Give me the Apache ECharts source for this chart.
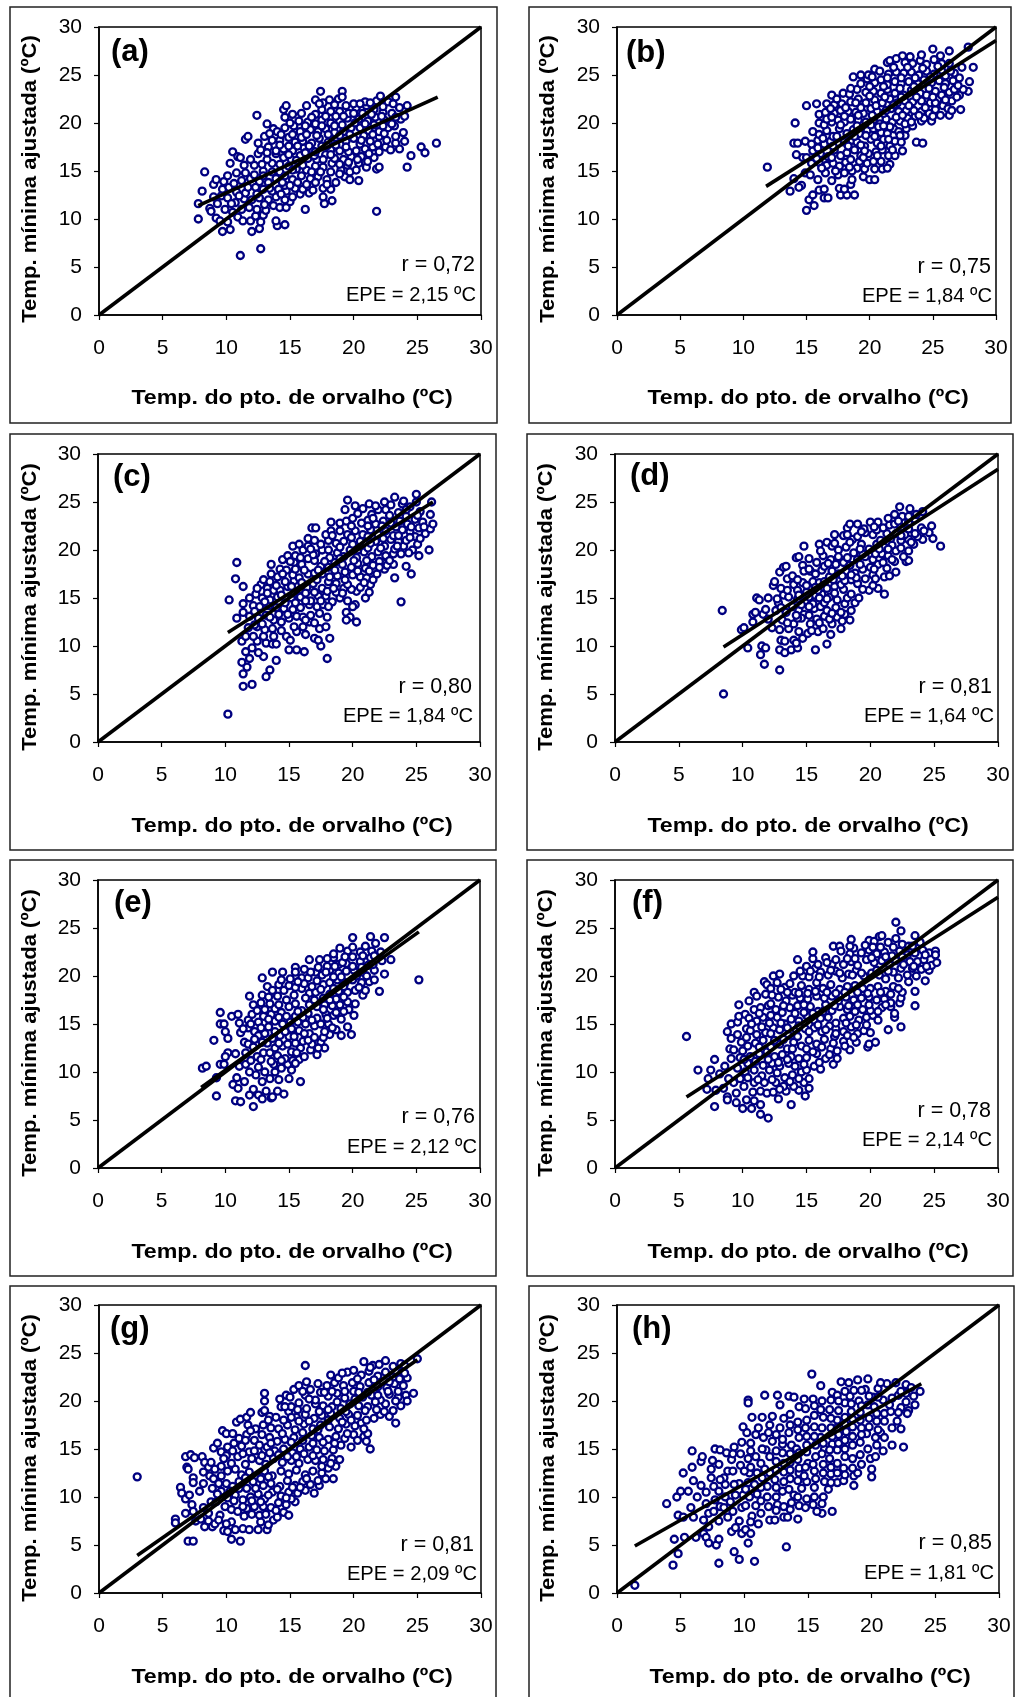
<!DOCTYPE html>
<html><head><meta charset="utf-8">
<style>html,body{margin:0;padding:0;background:#fff;overflow:hidden}#c{width:1015px;height:1697px}</style>
<script src="https://cdn.jsdelivr.net/npm/echarts@6/dist/echarts.min.js"></script>
</head><body><div id="c"></div>
<script>
const xTitle = 'Temp. do pto. de orvalho (ºC)';
const yTitle = 'Temp. mínima ajustada (ºC)';
const panelLabels = ['(a)','(b)','(c)','(d)','(e)','(f)','(g)','(h)'];
const rTexts = ['r = 0,72','r = 0,75','r = 0,80','r = 0,81','r = 0,76','r = 0,78','r = 0,81','r = 0,85'];
const epeTexts = ['EPE = 2,15 ºC','EPE = 1,84 ºC','EPE = 1,84 ºC','EPE = 1,64 ºC','EPE = 2,12 ºC','EPE = 2,14 ºC','EPE = 2,09 ºC','EPE = 1,81 ºC'];
const identityLine = [[0,0],[30,30]];
const fitLines = [
 [[7.8,11.4],[26.6,22.7]],[[11.8,13.4],[30,28.6]],[[10.2,11.4],[26.3,25]],[[8.5,9.9],[30,28.4]],
 [[8.1,8.4],[25.2,24.6]],[[5.6,7.4],[30,28.2]],[[3,3.9],[25,24.3]],[[1.4,4.9],[23.9,21.8]]];

const pointsA = [[11.1,6.2],[12.7,6.9],[21.8,10.8],[26.5,17.9],[25.3,17.5],[25.6,16.9],[24.5,16.6],[24.2,15.4],[7.8,10],[7.8,11.6],[8.3,14.9],[8.1,12.9],[12.4,20.8],[13.2,19.9],[11.5,18.3],[11.7,18.6],[10.5,17],[17.4,23.3],[19.1,23.3],
[9.7,8.7],[10.3,8.9],[12,8.7],[12.6,9],[14,9.3],[14.6,9.4],[9.2,10.1],[9.5,9.8],[10.1,9.7],[10.9,10.2],[11.3,9.8],[11.9,9.8],[12.7,9.7],[13.9,9.8],[12.3,10.3],[12.9,10.4],
[8.7,11.1],[8.8,10.8],[9.3,11.6],[9.9,11],[10.5,10.7],[11.2,11],[11.8,11.2],[12.4,11],[13.1,10.9],[13.7,11.4],[14.2,11.2],[14.7,11.2],[15,11.8],
[9,12.3],[9.6,12.4],[10.1,12.2],[10.7,11.7],[11.4,12.1],[12,12],[12.6,12.2],[13.3,12],[13.9,12.3],[14.6,12],[15.2,12.3],[15.8,12.6],[16.5,12.7],[16.2,11],[17.7,11.6],[18.3,11.9],[17.6,12.3],
[9,13.6],[9.7,13.1],[10.2,13.3],[10.8,12.8],[11.5,12.7],[12.3,13.3],[12.9,13.1],[13.6,12.9],[14.1,13.1],[14.7,12.9],[15.4,13.2],[16,13.1],[16.8,13],[17.6,13.2],[18.2,13.1],
[9.2,14.1],[9.8,13.9],[10.6,13.7],[11.2,14],[11.9,14.2],[12.6,13.9],[13.3,13.8],[13.9,14.2],[14.6,13.5],[15.2,14.1],[15.9,14.5],[16.6,14.2],[17.2,14.4],[17.9,14.1],[18.6,13.8],[19.3,14.4],[19.7,14.1],[20.4,14],
[10.3,15.8],[10.8,14.8],[11.4,15.6],[12.2,15.6],[12.9,15],[13.6,15.8],[14.2,14.9],[14.9,15.5],[15.5,15.2],[16.3,15.1],[17,15.5],[17.6,15.4],[18.3,15.8],[19,15.1],[19.5,15.6],[20.4,15.8],[21,15.4],[21.8,15.2],[22,15.4],
[10.9,16.5],[11.1,16.4],[12.5,16.8],[13.2,16.2],[13.9,16.8],[14.5,16.4],[15.1,16.2],[15.8,16.6],[16.4,16.3],[17.1,16.2],[17.8,16.7],[18.5,16.3],[19.2,16.2],[19.8,16.5],[20.6,16.5],[21.1,16],[21.6,16.4],[22,17],
[12.7,17.2],[13.3,17.5],[13.9,17.1],[14.5,17.3],[15.2,17.1],[16.1,17.4],[16.8,17.1],[17.5,17.6],[18.2,17.2],[18.9,17.1],[19.6,17],[20.2,17.1],[20.9,17.3],[21.5,17.5],[22.5,17.5],[23.6,17.3],[22.9,17.2],
[12.5,17.9],[13,18.6],[13.6,18.2],[14.2,18.2],[14.9,18.5],[15.4,18],[16,18.1],[16.7,17.9],[17.3,18.4],[18,18],[18.6,18.5],[19.4,18.1],[20,18.4],[20.8,18.7],[21.3,18.1],[22,18.6],[22.6,18.2],[23.3,17.9],[24,18.1],
[13.7,19.4],[14,19.1],[14.6,19.5],[15.3,19.7],[15.8,19.1],[16.6,19.3],[17.2,19.1],[17.8,19.4],[18.5,19],[19.2,19.1],[19.8,19.5],[20.5,19.5],[21.2,19.2],[22,19.1],[22.7,19.5],[23.2,19.7],[23.9,19],
[14.6,20.6],[15.2,20.9],[15.9,21],[16.4,20.1],[17,19.9],[17.5,20.3],[18.2,20],[18.9,20.2],[19.5,20.5],[20.4,20.4],[21.1,20.2],[21.7,20.6],[22.4,20.3],[23,19.9],[23.7,20.4],[24,20.7],
[14.5,21.4],[14.7,21.8],[16.3,21.8],[17,20.9],[17.5,21.4],[18.2,21.2],[18.9,21.2],[19.6,21],[20.2,21.6],[21,21.8],[21.6,21.4],[22.3,21.1],[23,21],[23.6,21.6],[24.2,21.8],
[17,22.4],[17.6,22.1],[18.1,22.4],[18.8,22.5],[19.1,22.7],[20,22],[20.9,22.2],[21.8,22.3],[22.1,22.8],[22.7,22.2],[23.3,22.7]];
const extraA = [[10.4,11.6],[11,12.4],[11.7,13.3],[12.4,12.6],[13,11.5],[13.4,13.2],[14.3,12.6],[14.4,13.8],[15,13.5],[15.6,13.8],[16.3,13.6],[17,13.8],[17.9,13.6],[18.9,14.7],[10.1,14.5],[11.5,14.8],[12.2,14.6],[12.9,14.5],[13.6,14.9],[14.6,14.5],[15.2,15.1],[16,15.6],[16.7,14.9],[17.4,14.9],[18.2,14.9],[19.7,14.9],[20.2,15.1],[11.9,16.2],[12.8,15.7],[13.2,16.9],[14.2,15.7],[14.9,16.7],[15.5,16.1],[16.2,16.9],[16.9,16.6],[17.6,16.2],[18.2,16.7],[18.9,15.7],[19.6,15.9],[20.3,16.2],[21.2,16.8],[14.2,17.7],[14.9,17.6],[15.6,17.6],[16.5,17.6],[17,17],[17.9,17.6],[18.6,17.7],[19.4,17.5],[20.5,17.8],[21.9,17.8],[13.4,18.9],[14.3,18.8],[15.2,18.8],[15.9,18.5],[16.3,18.8],[17.1,18.7],[18,18.8],[18.9,18.7],[19.7,18.8],[20.6,18.2],[21.5,18.8],[22.4,18.9],[23.3,18.6],[15,20],[15.7,20.2],[16.2,19.7],[17.5,19.7],[18.5,19.7],[19.1,19.8],[20.1,20],[20.9,19.9],[21.6,19.8],[22.3,19.7],[16.7,20.6],[17.8,20.7],[18.6,20.7],[19.2,20.7],[20,21],[20.7,21],[21.4,20.9],[22.2,20.7],[23.3,20.6],[17.3,22],[18.5,21.9],[19.4,21.8],[20.5,22],[21.3,22.1],[22.3,21.7],[23.1,22]];

const pointsB = [[11.9,15.4],[13.7,12.9],[14,14.2],[14.1,20],[14,17.9],[14.3,17.9],[14.9,18.1],[15,21.8],[14.7,16.4],[14.2,16.7],[14.6,13.5],[14.4,13.3],
[15,10.9],[15.6,11.4],[15.2,12],[15.5,12.5],[16.4,12.2],[16.7,12.2],[17.7,12.5],[18.2,12.5],[18.8,12.5],[16,13],[16.4,13.1],[17.6,13.2],[18,13.1],[18.5,13.6],
[14.9,14.8],[15.3,14.6],[15.9,14.1],[16.5,14.8],[17,14],[17.5,14.6],[18,14.8],[18.6,14.1],[19,15.3],[19.5,14.4],[20,14.1],[20.4,14.1],[20.4,15.2],[19.6,15.2],[21,15.2],
[15.4,15.8],[16,15.9],[16.6,15.6],[17.1,15.8],[17.6,15.5],[18.1,15.9],[18.6,15],[19.2,16],[19.8,15.8],[20.3,16],[20.9,16],[21.6,15.7],[21.4,15.3],
[15,16.4],[15.5,17.1],[16.1,16.8],[16.7,16.5],[17.2,17.2],[17.7,16.6],[18.2,16.9],[18.8,17.2],[19.3,16.6],[19.9,16.8],[20.5,17],[21,17.2],[21.5,16.6],[22,16.6],[22.6,17.1],
[15.4,17.8],[15.9,18.2],[16.4,17.8],[16.9,18.1],[17.5,17.9],[18,18],[18.6,18.2],[19,18],[19.6,17.6],[20.1,18.3],[20.6,17.9],[21.1,18.3],[21.6,17.6],[22,18.1],[22.5,18],[22.8,18.7],[23.7,18],[24.2,17.9],
[15.5,19.1],[16,18.8],[16.6,19.2],[17.1,18.6],[17.6,19.4],[18.2,18.9],[18.7,19.3],[19.2,18.9],[19.8,19.2],[20.3,19.4],[20.9,19],[21.4,18.9],[21.9,19.4],[22.3,19.1],[22.9,19.4],[23.4,19.7],
[16,20],[16.4,19.8],[17,20.1],[17.5,20.3],[18,20.1],[18.5,20.4],[19.1,20.3],[19.7,20.1],[20.3,20.3],[20.8,19.9],[21.3,20.4],[21.8,20.1],[22.4,20.2],[23,20.5],[23.6,20.7],[24.1,20.2],[24.9,20.2],[24.3,20.5],
[16,20.9],[16.5,21.1],[17.2,21],[17.7,21.3],[18.3,21.2],[18.9,21.1],[19.5,21],[20.1,21.5],[20.6,21.2],[21.1,21],[21.7,21.5],[22.3,21.2],[22.9,21.3],[23.5,21.3],[24.1,21.2],[24.7,21],[25.2,21.4],[25.6,20.8],[26.3,20.8],[27.2,21.4],[25.8,21.8],
[15.8,22],[16.6,22],[17.2,21.9],[17.8,22],[18.5,22.2],[19.1,22.5],[19.7,22.1],[20.4,22.4],[21,22.1],[21.6,22.5],[22.2,22.1],[22.8,22.3],[23.4,22.2],[24.1,22.3],[24.8,22.1],[25.4,22.5],[26.5,22.3],[27.1,22.9],[27.8,23.3],
[17,22.9],[17.9,23.1],[18.4,23],[19,23.5],[19.7,23.2],[20.3,23.3],[20.9,23.1],[21.4,23.5],[22,23.1],[22.7,22.9],[23.3,23.4],[24,23.1],[24.5,22.9],[25.2,23.3],[25.7,22.9],[26.3,23.2],[26.9,22.7],[27.4,23.5],
[18.7,24.8],[19.3,25],[19.8,24.6],[19.3,24.1],[20.4,24.2],[20.9,24.5],[21.4,24],[22,24.3],[22.5,24.1],[23.1,24.3],[23.8,24.1],[24.3,24.5],[24.9,24.2],[25.5,24.4],[26,24.1],[26.6,24.4],[27.1,24.7],[27.9,24.3],
[19.9,25],[20.4,25.6],[20.8,25.4],[21.5,25.1],[22.1,25.3],[22.7,25.2],[23.3,25.3],[23.9,25],[24.5,25.4],[25.1,25.1],[25.7,25.5],[26.2,25.7],[26.7,25.2],[27.3,25.8],[28.2,25.8],
[21.4,26.3],[21.6,26.5],[22.1,26.7],[22.8,26.3],[23.4,26.2],[24,26.5],[24.5,26.1],[25.1,26.6],[25.7,26.2],[26.3,26.2],[22.6,27],[23.2,26.9],[24.1,27.1],[25,27.7],[25.6,27],[26.3,27.5],[27.8,27.9]];
const extraB = [[16.2,15.3],[17.3,15],[18.4,15.4],[19.5,16.4],[20.6,16.6],[15.8,16.3],[17,16.4],[18.5,16.2],[19.6,17.1],[20.9,17.6],[21.8,17.2],[15.9,17.4],[17.1,17.6],[18.3,17.6],[19.3,17.7],[20.4,18.6],[21.5,18.3],[22.4,18.7],[16.3,18.4],[17.4,18.6],[18.8,18.6],[19.7,18.7],[20.7,19.6],[21.6,19.6],[22.8,19.9],[16.6,20.4],[17.7,19.8],[19,19.7],[20.1,19.8],[21.1,19.7],[22.1,20.6],[23.3,20.1],[17,20.6],[18,20.7],[19.1,20.8],[20.2,20.8],[21.3,21.3],[22.6,20.8],[23.9,20.8],[25,20.7],[16.9,21.5],[18.1,21.6],[19.3,21.6],[20.5,21.8],[21.9,21.9],[23.1,21.8],[24.4,21.6],[25.2,22.1],[26.2,21.5],[26.5,21.3],[17.4,22.5],[18.9,22.1],[20,22.8],[21.2,22.7],[22.5,22.7],[23.7,22.7],[25,22.7],[26,22.4],[26.7,23.5],[18.5,23.6],[20,23.8],[21.1,23.8],[22.4,23.6],[23.5,23.8],[24.7,23.6],[25.9,23.7],[27,23.9],[20.2,24.8],[21.4,24.7],[22.5,24.7],[23.6,24.7],[24.8,24.8],[26,24.9],[21.9,25.8],[23,25.8],[24.2,25.7],[25.4,25.9],[26.4,25.4]];

const pointsC = [[10.2,2.9],[10.9,18.7],[10.8,17],[11.4,16.2],[10.3,14.8],[10.9,12.9],[11.4,14.4],[11.4,13.5],[11.4,5.8],[12.1,6],[11.4,7.1],[13.2,6.8],[13.5,7.5],[11.7,7.8],[11.3,8.3],[11.9,8.7],[13,8.9],[14,8.5],[11.6,9.4],[12.6,9.3],[15,9.6],[15.6,9.6],[16.2,9.4],[18,8.7],[17.5,10],[18.2,10.8],[16.3,11.2],[17,10.8],[17.3,10.6],
[11.3,10.5],[11.6,11],[12.1,9.8],[12.5,10.5],[13.2,10.3],[13.7,10.2],[14,10.2],[13.8,11],[12.2,11],[13,11],[14.8,11],[15.1,10.6],[15.6,11.5],[14.4,11.6],[11.8,11.9],[12.5,12],[13.1,11.7],[13.7,11.8],[15.4,12],[16.1,12],[17.4,11.8],[17.9,12],[16.6,12.5],[12.3,12.2],
[11.9,13.1],[12.6,12.9],[13.2,13.2],[13.8,12.7],[14.4,12.5],[15,12.9],[15.6,13.1],[16.1,13],[16.7,13.2],[17.4,13.4],[18,13],[14.2,13.3],[12.2,14.2],[12.7,14.1],[13.4,14.2],[14,14],[14.6,13.9],[15.3,13.8],[15.9,14],[16.6,14.3],[17.2,14.1],[17.7,14.3],[19.5,13.5],[19.8,13],[19.5,12.7],[20.3,12.5],[20.2,14.3],[20,14.1],
[11.9,15],[12.4,15.4],[12.9,15],[13.5,14.8],[14.1,15.1],[14.7,14.5],[15.2,15],[15.9,15.1],[16.7,14.7],[17.3,15.2],[17.9,15.2],[18.4,14.6],[19,15],[19.6,14.7],[20.3,15.7],[21,15],[21.3,15.6],[18.7,15.6],
[12.8,16.4],[13.3,16],[13.8,15.8],[14.3,15.8],[14.9,16.2],[15.4,16.8],[15.9,15.9],[16.4,16.1],[16.9,16.5],[17.6,16],[18.1,16.7],[18.7,16.5],[19.3,16],[19.9,15.9],[20.6,16.1],[21.4,16.4],[13,16.9],[13.5,16.7],[14.1,17.2],[14.7,16.7],
[13.6,17.5],[13.6,18.5],[14.3,18],[14.8,17.9],[15.3,17.4],[15.8,17.1],[16.5,17.5],[17,17.6],[17.6,17.5],[18.2,17.2],[18.8,17.3],[19.4,17.7],[20,17.4],[20.6,17.2],[21.1,17.1],[21.6,16.9],[21.9,17.5],[22.5,18],[23.2,18.5],[23.3,17.1],[24.6,17.5],[23.8,14.6],[24.2,18.3],
[14.5,19],[14.9,19.4],[15.4,18.7],[16,18.5],[16.5,19.1],[17,18.9],[17.5,18.3],[18.1,18.2],[18.6,18.7],[19.2,18.5],[19.9,18.2],[20.4,18.6],[21,18.1],[21.6,18.4],[22.1,18.8],[22.7,19.2],[23.2,19.6],[23.8,19.6],[25.2,19.4],
[15.3,20.4],[15.8,20.6],[15.5,19.4],[16.1,20],[16.5,20.4],[17.1,19.6],[17.6,20],[18.2,19.2],[18.8,19.7],[19.3,19.3],[19.8,20],[20.3,19.2],[20.9,19.8],[21.5,19.3],[22,19.8],[22.6,19.4],[23.3,20.1],[24,20.4],[24.7,20],[25.1,20.6],[26,20],
[16.5,21.2],[17,21],[17.5,20.6],[18.1,21],[18.7,20.7],[19.3,20.9],[20,20.6],[20.6,20.9],[21.2,20.2],[21.8,20.9],[22.5,20.4],[23,21.1],[23.6,20.9],[24.2,21],[24.9,21.4],[25.7,21.7],[16.8,22.3],[17.1,22.3],
[17.9,21.6],[18.3,22],[19,22],[19.6,21.6],[20.2,22],[20.8,21.6],[21.4,22.1],[22,21.6],[22.6,22],[23.2,21.5],[23.9,22.1],[24.5,21.9],[25.2,22.3],[26.1,22.2],[26.3,22.7],[18.3,22.9],[19,22.8],[19.5,23],[20,23.3],[20.7,22.8],[21.2,23.1],[21.8,22.7],[22.4,23],[23,22.8],[23.7,23],[24.3,22.7],[24.9,23.2],[25.5,22.9],
[19.4,24.2],[19.6,25.2],[20.2,24.6],[20.8,24.3],[21.3,24.8],[21.5,23.7],[22,24.2],[22.5,25],[22.6,24.2],[23,24.7],[23.3,25.5],[23.9,24.8],[24,25.1],[24.5,24.5],[25,25.8],[25,25],[26.2,25],[26.1,23.7],[25.3,24],[23.6,23.9],[21.8,24.6]];
const extraC = [[12.9,12.3],[13.5,13],[14.9,13.3],[16.3,12.7],[17,12.4],[12.3,13.6],[13.1,14.6],[15.5,14.5],[16.3,14.7],[17.5,14.7],[18.1,14.1],[13.3,15.5],[14.4,15.3],[15.4,15.5],[16.3,15.5],[17,15.6],[18,15.7],[19.2,15.5],[12.5,16],[14,16.3],[15.2,16.2],[16,16.6],[17.2,16.9],[18.5,16],[19.6,16.4],[20.9,16.6],[14.5,17.5],[15.5,18],[16.2,17.9],[17.3,17.9],[18.6,17.9],[19.4,16.9],[20.4,17.8],[21.3,17.8],[22.7,18.4],[15.1,18.8],[15.9,19.2],[16.9,19.5],[17.8,18.8],[19,19.1],[20.1,18.9],[21.1,18.9],[22.1,18.2],[22.9,18.9],[16.7,20.1],[18.1,20],[19,20.3],[20.4,20],[21.4,20.7],[22.2,20.2],[23.5,20.4],[24.4,19.7],[18.4,21.5],[19.9,21.3],[21.2,21.4],[22.4,21.2],[23.6,21.5],[24.5,21.3],[25.3,21.2],[19.9,22.5],[21.2,22.5],[22.3,22.5],[23.4,22.4],[24.6,22.4],[25.6,22.4],[20.4,23.8],[21.6,23.3],[22.9,23.6],[24.2,23.5],[25.1,23.6],[24.2,24.2]];

const pointsD = [[8.5,5],[8.4,13.7],[9.9,11.7],[10.1,11.9],[10.4,9.8],[11.4,9.1],[11.5,10],[11.8,9.8],[11.7,8.1],[12.9,7.5],[12.9,9.6],[13.3,9.3],[13.8,9.6],[14.3,9.8],[15.7,9.6],[16.6,10.2],
[10.8,12.5],[10.8,13.3],[11,13.5],[11.1,15],[11.3,14.8],[11.6,13.3],[11.8,13.8],[12,15],[12,12.8],[12.3,11.9],[12.6,13.7],[12.8,14.5],[13.1,12.7],[12.9,11.7],[13,10.6],[13.3,10.5],[14,10.6],[14.2,10.3],[14.7,10.8],[15.1,11.3],[15.9,11.5],[16.3,11.8],[16.9,11.2],[17.7,11.8],[18.4,12.7],[14.4,11.5],[13.6,11.8],
[12.4,16.3],[12.5,16.7],[12.7,14.9],[13,16],[13.2,15.3],[13.6,15.1],[13.9,14.1],[14.4,13.7],[14.8,13.3],[15.3,12.3],[15.8,12.8],[16.4,13.1],[17,12.3],[17.4,13],[18,13.3],[18.5,13.7],[14,12.3],[14.6,12.9],[15.6,13.9],[16.1,14.1],[16.6,13.7],[17.3,14],[14.3,14.9],[14.9,14.7],[15.5,14.4],
[12.9,17.7],[13.2,18.2],[13.4,18.3],[13.5,17],[13.9,17.3],[14,16.4],[14.7,16.6],[14.3,15.8],[15,15.6],[15.6,15.3],[16.2,15.4],[16.8,15.1],[17.4,14.8],[18,14.4],[18.8,14.5],[17.9,15.9],[18.2,15],[19.1,15],[19.9,15.8],[20.6,16],[21.1,15.4],[16,15],
[14.2,19.2],[14.4,19.3],[14.8,20.4],[14.7,18.4],[14.8,17.8],[15.3,17.8],[15.5,16.7],[16,16.6],[16.6,16],[17.2,16.2],[17.7,16.4],[18.5,16.9],[19,16.5],[19.6,17],[20.2,17.4],[21.1,17.2],[21.5,17.3],[22,17.7],[15.2,19.1],[15.8,18.7],[16.2,17.9],[16.8,17.2],[17.5,17.5],[18.1,17.8],[18.8,17.6],[19.4,18],[20,18.2],[20.6,18.5],[21.3,18.1],[21.9,18.8],[22.8,18.8],[23,18.9],
[16,20.6],[16.3,19.4],[16.9,19],[17.3,18.5],[17.9,18.7],[18.4,18.4],[19,19],[19.6,19.3],[20.2,19],[20.9,19.6],[21.4,19.4],[22,19.9],[22.6,19.3],[23,19.9],[23.4,20.6],[25.5,20.4],[24.1,21.1],[24.9,21.2],[24.6,21.8],[24.8,22.5],
[16.6,20.8],[17,20.4],[17.5,20],[18.1,20.3],[18.7,19.7],[19.3,20.6],[19.9,20.1],[20.5,20.6],[21.1,20.3],[21.7,20.5],[22.4,21],[23,21.1],[23.7,21.4],[17.2,21.6],[17.9,21.5],[18.6,21.1],[19,21.4],[19.6,21.8],[20.2,21.6],[20.8,21],[21.3,21.7],[22,21.7],[22.7,21.6],[23.5,21.7],[24,22.3],
[18.2,22.3],[18.4,22.7],[19,22.7],[19.5,22.2],[20,22.9],[20.6,22.9],[21,22.3],[21.5,22.6],[21.9,22.7],[22.4,22.4],[23,22.9],[23.5,23.2],[21.4,23.3],[21.9,23.7],[22.3,24.5],[23.1,24.3],[23.6,23.7],[24.1,24],[22.5,23.5]];
const extraD = [[13.5,12.4],[13.4,13.5],[13,14],[14.3,12.9],[15.2,13.2],[15.4,11.6],[16,12.4],[16.8,12.8],[17.8,12.6],[14.2,13.2],[14.6,14.3],[15.2,14.1],[16.4,14.5],[17,13.4],[17.7,13.5],[13.5,15.8],[14.4,15.3],[15.2,15.1],[15.9,15.8],[16.6,14.9],[17.2,15.5],[18.5,15.4],[19.4,15.9],[20.2,16.3],[14.3,16.9],[15,16.3],[15.7,16.1],[16.4,16.7],[17.1,16.9],[18,16.8],[18.9,17.1],[20.4,17],[15.2,18],[15.7,17.5],[16.4,18.3],[17,17.8],[17.8,17.3],[18.5,17.4],[19.2,18.5],[20.3,18],[21,18.7],[21.7,19],[16.1,19.9],[16.7,18.6],[17.5,19.3],[18.2,19.2],[19.4,19.6],[20.4,19.6],[21.4,20.1],[22.4,20.2],[17.2,20.7],[18.4,20.8],[19.2,20.1],[20.7,20.1],[22.4,21.5],[23.2,20.8],[18.2,21.6],[19.3,21.9],[20.5,22.1],[21.6,21.2],[23,22.2],[24.2,22],[20.3,22.4],[22.2,23],[23,23.5]];

const pointsE = [[8.2,10.4],[8.5,10.6],[9.3,9.4],[9.3,7.5],[9.1,13.3],[9.6,10.8],[9.9,10.8],[9.6,15],[9.9,15],[9.6,16.2],[10,14.2],[10.2,13.5],[10.2,12],[10,11.6],[10.5,15.8],[10.6,8.7],[10.9,9.4],[10.8,7],[11.2,6.9],[11,8.3],[12.2,6.4],
[10.8,11.9],[11.1,10.6],[11.5,9],[11.9,7.6],[12.2,8.2],[12.6,7.6],[12.9,7.2],[13.2,8],[13.6,7.3],[13.7,7.4],[14.1,8],[14.6,7.7],[15.9,9],[15,9.3],[14.2,9.2],[13.5,9.3],[12.9,9],[12.4,9.7],[11.9,10],[11.6,10.8],[12.6,10.5],[13.1,10],[13.9,10],[14.4,10.4],[15.2,10.2],[14.9,10.8],[13.8,10.8],
[11.1,15.1],[11.2,14.1],[11.5,13.1],[11.8,12.9],[12,11.2],[12.5,11.6],[13,12],[13.5,12],[14.1,11.7],[14.7,11.4],[15.3,11.2],[15.8,11.3],[16.2,11.6],[17.2,11.8],[16.7,12.3],[15.9,12.5],[15.2,12.1],[14.5,12.7],[13.9,12.5],[13.3,13],
[11,16],[11.8,15.4],[11.8,14.6],[12,15],[12.3,14.2],[12.6,13.8],[13.1,14],[13.7,13.5],[14.3,13.8],[15,13.7],[15.5,13],[16.1,13.2],[16.8,12.9],[17.5,13.1],[17.8,12.5],[18.2,13.9],[17.7,13.6],[16.6,14],[15.8,14.3],[15.2,14.5],
[11.9,17.9],[12.2,17],[12.1,16],[12.6,15.2],[13,15.8],[13.4,14.7],[13.9,15.3],[14.5,15],[15.1,15.2],[15.7,15.2],[16.3,15],[17,14.8],[17.5,15],[18.1,15],[18.7,14.4],[19.1,13.8],[19.9,13.9],[19.6,14.7],[19.1,15.5],[18.5,15.9],[17.9,16],[17.2,15.6],[16.5,16.1],
[12.9,18],[12.9,19.8],[13.1,16.5],[13.6,16],[13.9,16.6],[14.4,16.2],[15,16.8],[15.5,17.1],[16,16.4],[16.6,17],[17.2,16.8],[17.8,17],[18.4,16.9],[19,17],[19.6,17.3],[20.2,17.1],[20.1,15.9],[19.7,16.5],[18.7,17.6],
[13.3,18.9],[13.7,18.5],[13.7,20.4],[14.2,19.1],[14.1,17.9],[14.6,18.5],[14.5,20.4],[15,19],[15.4,18],[16,18.7],[16.6,18.2],[17.1,18.3],[17.7,17.7],[18.2,18.1],[18.9,18.4],[19.6,18.3],[20.2,18.5],[20.8,18],[21,18.5],
[15.5,20.9],[15.5,20.4],[16,19.8],[16.5,19.8],[16.6,21.7],[17.2,19.5],[17.7,19.1],[18.2,19.3],[18.8,19.6],[19.4,19.3],[20,19.6],[20.7,19.3],[21.3,19.4],[21.7,19.6],[22.1,18.4],[17.1,20.4],[17.6,20.1],[18.2,20.6],[18.9,20.3],[19.5,20.5],[20.1,20.6],[20.8,20.4],[21.7,20.6],[22.5,20.2],
[17.4,21.7],[18,21],[18.5,21.9],[18.9,21.2],[19.5,21.3],[20,22],[20.6,21.5],[21.2,21.1],[21.4,21.9],[22.3,21.6],[23,21.7],[18.5,22.3],[19,22.9],[19.6,22.6],[20,23],[20.6,22.5],[21,23.1],[21.5,22.6],[22.2,22.5],[20,24],[21.4,24.1],[21.8,23.4],[22.5,24],[25.2,19.6]];
const extraE = [[11.6,12],[12.2,12.6],[12.8,11.3],[13.6,11.1],[14.4,11.2],[15.5,10.9],[12.3,13.4],[12.9,13.1],[14.2,13],[14.9,12.9],[15.6,12],[16.5,13.3],[17.3,12.5],[11.4,14.5],[12.8,14.6],[13.9,14.2],[14.7,14.2],[15.4,13.7],[16.2,14],[17,13.6],[17.8,14.2],[18.4,14.6],[13.4,15.5],[14.2,15.7],[14.8,15.8],[15.5,15.8],[16.1,15.7],[16.8,15.4],[18,15.6],[18.7,16.2],[12.5,16.4],[12.8,17.2],[13.5,17.1],[14.2,17],[14.8,17.5],[15.7,16.3],[16.3,17.7],[17,17.5],[17.7,16.5],[18.2,17.5],[19.3,16.3],[19.3,17.8],[13.4,17.8],[15.5,18.8],[16.2,19.2],[16.8,18.9],[17.5,18.6],[18.5,18.7],[19.3,18.9],[20.5,18.8],[14.4,19.6],[15.1,19.7],[15.7,19.4],[16.7,20.4],[17.3,20.9],[18.5,19.9],[19.1,19.9],[20.3,20],[21.1,20],[16.2,20.7],[17.9,20.4],[18.6,21],[19.2,21.4],[20,21],[20.7,20.9],[21.6,21.2],[18,21.8],[19.4,22],[20.8,22.1],[21.7,22.1]];

const pointsF = [[5.6,13.7],[6.5,10.2],[7.3,9.3],[7.5,10.2],[7.2,8.2],[7.8,11.3],[7.9,8.1],[7.8,6.4],[8.2,9.8],[8.5,8.3],[8.6,10.6],[8.8,7.4],[8.8,7.1],[8.8,14.2],[8.9,9.3],[9.1,11.4],[9,12.4],[9.1,13.5],[9.1,15],[9.6,15.2],[9.5,7.8],[9.5,6.8],[10,6.2],[10.7,6.2],[11.4,6.6],[11.4,5.6],[12,5.2],[13.8,6.6],[14.9,7.5],[12.8,7.2],
[9.3,8.9],[9.8,9.3],[10.3,7.1],[10.9,7],[10.8,7.9],[11.4,8],[11.9,7.8],[12.4,7.9],[13.4,8],[14.4,8.1],[15.2,8.3],[14.8,8.9],[14,8.5],[13.2,8.5],[12.6,8.9],[11.7,8.9],[10.9,8.9],[10.1,8.5],
[9.6,10.4],[10.2,10],[10.9,10.2],[11.5,9.6],[12.1,10.2],[12.7,9.9],[13.3,9.4],[13.9,9.7],[14.6,10],[15.2,9.3],[13.6,10.9],[12.9,10.6],[12.3,10.9],[11.6,10.7],[10.4,10.9],[9.8,11.5],[9.3,12.3],[10,12.2],[10.6,11.6],[11.3,11.9],[11.9,12.1],[12.5,11.6],[13.1,11.8],[13.8,11.6],[14.4,11.4],[15,11.5],[15.6,10.6],[16.1,10.3],[16.5,11.4],[17.1,10.8],[17.4,11.4],[15.8,11.9],
[9.9,13.1],[10.4,12.7],[11,13],[11.6,13.3],[12.2,12.6],[12.9,12.9],[13.5,12.4],[14,13.1],[14.6,12.7],[15.2,13.3],[15.8,12.9],[16.4,13.4],[16.9,12.4],[17.4,12.2],[17.9,13.2],[18.4,12.3],[18.9,13.1],[19.8,12.6],[19.9,12.9],[20.4,13.1],[17.2,13.7],
[9.6,13.9],[10.3,14.5],[10.6,14.3],[11.1,13.9],[11.8,14.1],[12.4,14.6],[12.9,14.4],[13.6,13.8],[14.2,14.4],[14.9,14.5],[15.6,14.6],[16.2,14.2],[16.8,14.8],[17.3,14.5],[17.9,14.2],[18.5,14.7],[19,14],[19.5,14.3],[20,14.1],[21.4,14.4],[22.4,14.7],[18.2,13.8],
[9.7,15.8],[10.2,16],[10.5,15.6],[11.1,15.3],[11.6,15.7],[12.1,15.1],[12.7,15.7],[13.3,15],[13.8,15.5],[14.4,15.3],[15,15.9],[15.6,15.4],[16.1,15.6],[16.7,15.7],[17.3,15.1],[17.9,15.6],[18.4,15.8],[19.1,15.4],[19.7,15.7],[20.2,15.9],[20.6,15.4],[21.9,15.7],
[9.7,17],[10.5,17.4],[10.9,16.5],[11.4,16.7],[12,16.9],[12.6,16.5],[13.1,16.2],[13.7,16.7],[14.3,16.9],[14.8,16.2],[15.3,16.8],[15.9,16.3],[16.5,17],[17,16.4],[17.6,16.8],[18.2,16.5],[18.8,16.3],[19.4,16.5],[20,16.4],[20.9,16.7],[21.6,16.8],[21.9,16.1],[23.5,16.9],
[10.9,18.3],[11.1,17.9],[11.8,18.1],[12.2,17.1],[12.8,17.8],[13.4,17.4],[13.9,18],[14.5,17.7],[15.1,17.6],[15.8,17.9],[16.4,17.7],[17,17.9],[17.5,17.4],[18.1,17.8],[18.7,17.5],[19.3,17.7],[19.9,17.8],[20.5,17.5],[21.1,17.6],[21.6,17.2],[22.3,17.2],[22.4,17.7],
[11.7,19.4],[11.9,19.1],[12.2,18.7],[12.4,20],[12.7,19.3],[12.9,20.2],[13.3,18.8],[13.7,19.2],[14.1,18.3],[14.6,19],[15.2,18.6],[15.8,19.3],[16.3,18.7],[16.9,19.1],[17.6,18.6],[18.2,18.9],[18.8,19],[19.4,18.7],[20,18.7],[20.6,18.9],[21.2,18.4],[21.8,18.9],[22.5,18.3],[23,19.4],[23.5,18.4],[24.3,19.5],
[14.7,20],[15.2,19.9],[15.7,20.8],[16.1,20.4],[16.7,20.1],[17.3,20.5],[17.8,19.8],[18.3,20.2],[18.9,20.6],[19.5,20],[20.1,20.3],[20.7,20.1],[21.2,19.7],[21.8,20.4],[22.4,20.8],[22.9,20.1],[23.6,20],[24,20.7],[24.6,20.6],[14.3,21.7],[15,21],
[15.5,21.8],[15.5,22.5],[16.5,21.9],[17,21.2],[17.3,21.7],[17.9,21.2],[18.5,21.5],[19,21.1],[19.7,21.7],[20.3,21.4],[20.9,21.6],[21.5,21.2],[22,21.6],[22.6,21.2],[23.1,21.5],[23.7,21.5],[24.2,21.7],[24.8,21.1],[25.2,21.4],
[17.1,23.1],[17.6,23.1],[17.7,22.6],[18.4,22.3],[18.7,22.9],[19.3,22.4],[19.9,22.7],[20.5,22.3],[21.1,22.5],[21.7,22.1],[22.3,22.6],[22.9,22.2],[23.5,22.4],[24.1,22.7],[24.6,22.4],[25.1,22.6],[25.1,22.2],
[18.5,23.8],[18.4,23.1],[19.9,23.7],[20.3,23.6],[20.7,24.1],[20.9,24.2],[21.4,23.5],[22,23.9],[22.5,23.3],[23,23.1],[23.5,24.2],[23.9,23.5],[22,25.6],[22.4,24.7],[20.2,23]];
const extraF = [[10.4,9.4],[11.2,9.2],[12.3,9.2],[12.9,8.2],[13.7,9],[14.4,9.3],[15,10.2],[10.1,11.3],[11,11.1],[12,11.3],[12.8,11],[13.5,11.3],[14.1,10.6],[14.8,10.8],[16,11],[16.8,11.8],[10.3,13.6],[11.3,12.6],[12.5,13.3],[13.2,13.4],[13.9,12.4],[14.3,13.7],[15,12.4],[15.5,12.1],[16.2,12.6],[17.1,13],[18,12.7],[18.7,13.6],[10.7,15],[11.5,14.7],[12.2,14],[13,15.1],[13.5,14.6],[14.4,14.8],[15.2,14.2],[15.9,14.9],[16.5,14.4],[17.3,14],[18.1,15.1],[18.9,14.9],[19.7,14.9],[11.3,16.1],[12.2,15.9],[13.2,16.9],[14.1,16.1],[14.8,17],[15.5,16.1],[16.3,16.3],[17.2,16.9],[18.3,16.9],[19,17],[19.9,17],[20.6,16.3],[21.2,17],[12.3,18],[13,18.6],[13.5,18.3],[14.4,18.2],[15.1,18.2],[15.7,18.4],[16.6,18.3],[17.3,18.2],[18,18.3],[19,18.3],[19.8,18.2],[20.8,18.3],[21.6,18.1],[22.2,18.7],[14,20],[14.5,20.5],[15.3,20.5],[16,19.9],[16.9,20.6],[17.6,20.3],[18.6,20.1],[19.3,20.3],[20.5,20.6],[21.4,20.5],[22.2,19.8],[23.3,20.8],[15.9,21.2],[16.6,21.4],[18.2,21.8],[18.8,21.8],[20.1,21.9],[21.2,22],[22.5,22],[23.4,21],[24.4,21],[19.6,23.2],[20.8,23],[21.8,23],[23.3,23.1],[24.3,22.2]];

const pointsG = [[3,12.1],[6,7.7],[6,7.3],[6.4,11],[6.5,10.4],[6.8,9.8],[6.8,8.3],[6.8,14.2],[6.9,13.1],[7,12.9],[7,5.4],[7.4,5.4],[7.2,14.4],[7.5,14.1],[7.4,12],[7.4,11.5],[7.1,10.2],[7.3,9.2],[7.6,7.5],[7.4,8.5],[8.1,14.2],[8.3,13.6],[8.6,13.1],[8.8,13.6],
[7.9,10.6],[8.2,8.9],[8.3,6.9],[8.6,7.5],[8.9,6.9],[8.6,8.3],[8.8,9.5],[8.9,10.9],[8.7,12.2],[9.1,7.2],[9.5,8.1],[9.4,7.6],[9.8,6.5],[10.1,6.4],[10.4,5.6],[11.1,5.4],[11.3,6.7],[10.7,6.6],[10.4,7.4],[10,7.2],[11.8,6.6],[12.5,6.6],[13.2,6.6],[12.7,7.4],[13.3,7.1],[13.7,7.6],[14,7.9],[14.5,8.4],[14.9,8.1],[11.4,8],[12,8.2],[12.6,8.1],
[9.2,9.5],[9.9,9],[10.4,8.7],[10.9,8.5],[11.6,8.8],[12.2,9],[12.9,9],[13.5,8.9],[14.1,9.4],[14.7,9.2],[15.4,9.5],[15.1,9.8],[9.6,10.6],[10.1,9.9],[10.7,10.2],[11.3,9.7],[11.9,10],[12.5,10.3],[13,9.8],[13.6,10.5],[14.3,10.1],[14.9,10.5],[15.6,10.4],[16.2,10.7],[16.9,10.4],[17.3,11.2],
[9,11.9],[9.4,11.4],[10,11.4],[10.5,11.1],[11,11.6],[11.6,10.9],[12.3,10.9],[12.9,11.2],[13.5,11.4],[14.2,11.1],[14.8,11.7],[15.4,11.2],[16,11.6],[16.6,11.3],[17.2,11.7],[17.8,11.9],[18.4,11.9],[9.1,12.9],[9.6,13.2],[10.1,12.7],[10.7,12.9],[11.2,12.3],[11.8,12.6],[12.4,12.2],[13,12.7],[13.6,12.2],[14.3,12.7],[14.9,12.4],[15.5,12.8],[16.2,12.3],[16.8,12.7],[17.5,12.5],[18,13],[18.6,13.2],
[9,15.1],[9.3,15.6],[9.6,14.7],[10,14.3],[10.4,13.5],[10.9,14.2],[11.5,13.4],[12,14],[12.6,13.8],[13.1,13.4],[13.7,14],[14.4,13.6],[15.1,13.8],[15.7,13.5],[16.4,13.9],[17,13.8],[17.6,13.9],[18.3,14],[18.9,13.9],[10.1,15.2],[10.6,15.6],[11.2,15.3],[11.8,14.7],[12.5,14.8],[13.2,15.2],[13.8,14.8],[14.5,15],[15.2,14.6],[15.8,15],[16.5,15.2],[17.1,14.9],[17.7,14.8],[18.4,14.9],[19,15.4],[19.8,15.2],[21.3,15],
[9.7,16.9],[10,16.6],[10.5,16.6],[11,16.1],[11.6,16.5],[12.2,15.9],[12.8,16.5],[13.4,16.2],[14,15.8],[14.6,16],[15.3,16.2],[16,15.9],[16.7,16.4],[17.3,16.2],[18,16],[18.6,16.3],[19.3,16.1],[20,16.5],[20.8,16.3],[21,15.8],[10.8,17.8],[11.1,18.1],[11.7,17.5],[12.3,17.1],[12.9,17.5],[13.5,17.2],[14.1,17.1],[14.8,17.5],[15.4,17],[16.1,17.6],[16.8,17.1],[17.4,17.5],[18.1,17.3],[18.8,17.1],[19.4,17.6],[20.1,17.4],[20.6,17.7],[21.1,16.6],[23.3,17.7],
[11.6,18.3],[11.9,18.8],[12.8,18.8],[13,19],[13.4,18.4],[13,20],[13,20.8],[13.9,18.3],[14.3,19.4],[14.9,18.9],[15.5,18.3],[16.2,18.6],[16.9,18.2],[17.5,18.5],[18.2,18.7],[18.9,18.2],[19.6,18.6],[20.3,18.5],[21,18],[21.6,18.2],[22.1,18.6],[22.8,18.4],[14.2,20.2],[14.7,20.6],[15.1,19.4],[15.7,19.8],[16.3,19.2],[17,19.7],[17.6,19.5],[18.3,19.4],[19,19.2],[19.7,19.7],[20.4,19.5],[21.1,19.4],[21.8,19.1],[22.5,19.7],[23.1,19],[23.7,19.5],
[15,20.4],[15.3,21.2],[15.7,21.6],[16.2,20.6],[16.3,22],[16.6,21.2],[17,20.1],[17.4,20.9],[18,20.5],[18.7,20.8],[19.3,20.3],[20,21],[20.7,20.4],[21.4,20.6],[22.1,20.1],[22.8,20.7],[23.5,20.4],[24.1,20.6],[24.2,20],[24.7,20.8],[16.2,23.7],[17.2,21.8],[17.9,21.6],[18.5,21.9],[19.2,21.6],[19.9,21.9],[20.5,21.5],[21.2,21.9],[21.9,21.5],[22.6,21.4],[23.2,21.8],[23.9,21.6],[24.2,22.4],
[18.2,22.7],[18.8,22.4],[19.5,23],[20,23.2],[20.6,22.7],[21.2,23.1],[21.9,22.6],[22.5,23],[23.1,22.5],[23.8,23],[20.8,24.1],[21.5,23.7],[22,23.8],[22.5,24.2],[23.1,23.6],[23.7,23.9],[25,24.4],[24,23.7]];
const extraG = [[8.2,11.4],[8.2,12.6],[8,7.7],[9.6,12.2],[9.3,10.3],[10.3,10.6],[11,10.9],[11.5,12],[12.1,11.6],[12.7,11.9],[13.3,12.1],[10.6,9.6],[11.3,9],[12,9.6],[12.7,9.5],[13.3,10.2],[14,10.8],[14.7,9.9],[13.1,8.2],[13.9,8.6],[15.2,11],[15.8,11],[16.3,11.9],[9.8,14],[10.5,14.8],[11.3,14.5],[12.2,14.8],[12.8,14.3],[13.4,14.6],[14.1,14.4],[14.8,14.2],[15.5,14.2],[16.1,14.5],[16.8,14.3],[17.5,13.2],[18.2,13.5],[11.5,15.9],[12.6,15.4],[13.5,15.6],[14.4,16.6],[15.1,15.7],[16,16.7],[16.8,15.6],[17.6,15.7],[18.5,15.6],[19.5,16.6],[20.3,15.9],[11.9,16.9],[13.3,18],[14.5,18],[15.1,18.3],[15.7,17.9],[16.5,17.9],[17.2,17],[18,18],[19.1,17.8],[19.8,18],[20.8,17.1],[14.6,19.4],[15.6,19.1],[16.5,20.2],[17.3,18.9],[18,19.1],[18.7,19.9],[19.4,18.9],[20.1,20.2],[20.9,19],[21.7,19.9],[22.4,18.9],[23.3,20],[16,21],[17.7,20.9],[18.3,21],[19.3,21],[20.4,20.9],[21.1,20.9],[21.9,20.6],[22.7,21],[23.5,21],[19.1,22.9],[20.3,22.3],[21.6,22.2],[22.8,22],[23.6,22.3],[21.3,23.5],[24,22.9]];

const pointsH = [[1.4,0.8],[4.4,2.9],[4.8,4.1],[4.5,5.6],[5.3,5.8],[6.2,5.8],[6.8,6.2],[7,5.8],[7.2,5.2],[7.8,5],[8,5.6],[8,3.1],[9.2,4.3],[9.6,3.5],[10.8,3.3],[13.3,4.8],[10.3,5.2],[3.9,9.3],[4.7,10],[4.8,8.1],[5,10.6],[5.2,7.9],[5.2,12.5],[5.6,10.6],[5.8,8.9],[5.9,13.1],[6,11.7],[6,7.9],[6.6,13.7],[6.7,14.2],[5.9,14.8],
[6.3,10],[6.6,11.2],[6.8,7.6],[7,9.3],[7,10.5],[7.2,6.9],[7.2,8.3],[7.4,12.9],[7.5,13.8],[7.6,11.1],[7.7,15],[8,13.4],[8.1,14.9],[8,7.5],[8.1,9],[8,10.6],[8.4,8.9],[8.5,11.3],[8.7,12.7],[8.6,14.6],[8.7,7.9],[9,6.4],[9.3,6.8],[9.1,8.5],[9.3,10.2],[9.1,12.7],[9.2,15.2],
[9.6,7.5],[9.8,6.2],[10.1,6.6],[10.5,6.2],[9.8,8.9],[9.9,10.2],[9.6,11.4],[9.7,13.3],[9.7,14.5],[9.8,15.7],[10.1,9.1],[10.3,11.5],[10.4,12.5],[10.3,14],[10.5,15.6],[10.6,8],[10.9,9.1],[11,10.3],[10.8,11.3],[11,12.5],[10.9,14.2],[10.2,16.7],[10.9,16.5],[11.1,7.2],[11.3,8.3],
[9.9,17.3],[10.3,20.1],[10.3,19.8],[10.6,18.3],[11.5,16.2],[11.6,20.6],[11.4,18.3],[11.7,14.9],[11.6,12.9],[11.8,11.1],[11.9,9],[12,7.6],[12.4,7.6],[12.6,9.2],[12.5,10],[12.4,11.8],[12.5,13.7],[12.2,15.8],[12,17.5],[12.2,18.4],[12.6,20.6],[12.8,19.6],[12.8,17.2],[13,15.5],[13,14.6],[13.1,12.6],[13,10.6],[13.1,7.9],[13.4,7.9],[13.6,8.7],[13.7,9.4],[13.9,10.2],[13.6,11.9],[13.6,13.6],[13.7,15.4],[13.5,16.7],[13.6,18.6],[13.5,20.5],[13.9,20.4],
[14.2,7.7],[14.3,9.1],[14.5,10.9],[14.3,12.5],[14.2,13.9],[14.1,15],[14.3,16.2],[14.2,17.8],[14.3,19.4],[14.7,20.2],[14.9,18],[14.9,16.3],[14.9,14.7],[15,13.5],[14.9,11.6],[14.9,9.8],[14.8,8.9],[15.4,20.2],[15.3,22.8],[15.5,18.5],[15.5,17.3],[15.6,15.4],[15.6,14.2],[15.5,12.7],[15.5,11],[15.5,10],
[16,21.6],[16.1,20],[16.2,18.3],[16,16.2],[16.3,15],[16.2,13.4],[16.3,11.6],[16.2,10],[16.1,8.3],[15.7,8.5],[16.1,9.3],[16.9,8.5],[16.6,10.8],[16.8,12.4],[16.7,14],[16.9,15.5],[16.8,17.2],[16.7,19.1],[16.9,20.9],[17.3,20.6],[17.4,19],[17.3,18],[17.4,16.5],[17.3,14.9],[17.3,13.5],[17.3,11.5],[17.8,11.7],[17.8,13],[17.9,15],[18,16.8],[17.9,18.3],[17.9,19.8],[17.6,22],[18.2,21.9],[18.3,20.5],[18.4,18.9],[18.5,17.3],[18.5,15.4],[18.5,14],[18.6,12.2],[18.6,11.2],[18.9,12.5],[19.1,14.4],[19.1,15.7],[19.2,17.2],[19.1,18.8],[19,20],[18.9,22.2],[19.5,21.2],[19.7,19.6],[19.8,18.2],[19.6,16.6],[19.7,15],[19.9,14],[20,12.9],[20,12.1],[20.3,14.2],[20.3,16.2],[20.4,17.9],[20.2,19.4],[20.1,20.4],[19.7,22.3],[20.5,21.3],[20.9,20.1],[21,18.7],[20.7,16.7],[20.9,14.8],[21.6,15.4],[21.6,17.2],[21.5,18.9],[21.6,20.3],[21.2,21.8],[21.9,21.9],[22.1,20.6],[22.3,19.3],[22,17.9],[22.3,17.1],[22.5,15.2],[22.7,20.8],[22.9,19],[22.7,21.7],[23.1,21.4],[23.4,19.6],[23.8,21],[22.8,18.7]];
const extraH = [[7.7,9.7],[7.6,8.5],[7.4,12],[8.5,10],[8.9,9.5],[8.4,12],[8.1,11.8],[9.2,11.3],[9,13.9],[9.1,14.5],[10,12.7],[10.1,10.8],[10.5,13.1],[10.5,14.8],[10.4,10],[10.5,7.4],[11.3,9.6],[11.3,11],[11.4,12],[11.3,13.5],[11.4,15],[11.1,17.2],[11.8,10],[12,12.5],[12,14.2],[11.9,16.7],[12.5,8.6],[12.5,11],[12.5,12.8],[12.5,14.8],[12.5,16.5],[13.1,9],[13.1,11.6],[13.1,13.5],[13,16],[13.1,18.2],[13.5,10.8],[13.6,12.8],[13.6,14.5],[13.6,17.5],[14.2,10],[14.2,11.7],[14.3,13],[14.3,14.6],[14.2,17],[14.7,12.2],[14.8,13.1],[14.9,15.4],[14.8,17.2],[14.8,19.2],[15.4,9.2],[15.6,11.9],[15.4,13.4],[15.5,16.3],[15.5,19.5],[16.2,12.5],[16.1,14.5],[16.2,15.6],[16.1,17.2],[16,19.1],[16.8,11.5],[16.8,13.1],[16.7,14.9],[16.9,16.3],[16.8,18.2],[16.8,20.1],[17.3,12.5],[17.4,15.6],[17.3,17.2],[17.4,20],[17.9,12.3],[17.9,14.2],[17.9,15.9],[17.9,17.6],[17.9,21],[18.5,13],[18.5,16.3],[18.5,18.1],[18.4,19.7],[18.6,21.1],[19.2,13.4],[19.2,16.5],[19.1,18],[19.2,19.5],[19.2,21.1],[19.8,17.3],[19.8,20.5],[20.4,15.4],[20.5,17],[20.4,18.7],[20.5,20.4],[20.7,21.9],[21,16.2],[21,17.9],[21.4,19.6],[22.1,18.8],[22.3,21],[22.7,19.9],[23.3,20.5]];

const allPoints = [pointsA.concat(extraA),pointsB.concat(extraB),pointsC.concat(extraC),pointsD.concat(extraD),pointsE.concat(extraE),pointsF.concat(extraF),pointsG.concat(extraG),pointsH.concat(extraH)];

// layout in page pixels
const plotBoxes = [[99,27,382,288],[617,27,379,288],[98,454,382,288],[615,454,383,288],[98,880,382,288],[615,880,383,288],[99,1305,382,288],[617,1305,382,288]];
const frames = [[10,7,487,416],[529,7,482,416],[10,434,486,416],[527,434,486,416],[10,860,486,416],[527,860,486,416],[10,1286,486,416],[529,1286,485,416]];
const labelPos = [[111,52],[626,53],[113,477],[630,476],[114,903],[632,903],[110,1329],[632,1329]];
const statPos = [[475,265,476,295],[991,267,992,296],[472,687,473,716],[992,687,994,716],[475,1117,477,1147],[991,1111,992,1140],[474,1545,477,1574],[992,1543,994,1573]];
const yTitlePos = [[30,179],[548,179],[30,607],[546,607],[30,1033],[546,1033],[30,1458],[548,1458]];
const xTitlePos = [[292,398],[808,398],[292,826],[808,826],[292,1252],[808,1252],[292,1677],[810,1677]];

const font = '"Liberation Sans", Arial, sans-serif';
const grid=[],xAxis=[],yAxis=[],series=[],graphic=[];
allPoints.forEach((pts,i)=>{
  const b=plotBoxes[i];
  grid.push({left:b[0],top:b[1],width:b[2],height:b[3],show:true,borderColor:'#000',borderWidth:1.5,backgroundColor:'#fff'});
  const ax={min:0,max:30,interval:5,type:'value',splitLine:{show:false},
    axisLine:{show:true,onZero:false,lineStyle:{color:'#000',width:1.5}},
    axisTick:{show:true,length:5,lineStyle:{color:'#000',width:1.2}},
    axisLabel:{color:'#000',fontFamily:font,fontSize:21,showMinLabel:true,showMaxLabel:true,hideOverlap:false}};
  xAxis.push(Object.assign({},ax,{gridIndex:i,axisLabel:Object.assign({},ax.axisLabel,{margin:23})}));
  yAxis.push(Object.assign({},ax,{gridIndex:i,axisLabel:Object.assign({},ax.axisLabel,{margin:17})}));
  series.push({type:'scatter',xAxisIndex:i,yAxisIndex:i,data:pts,symbol:'circle',symbolSize:7,silent:true,animation:false,large:false,
    itemStyle:{color:'#fff',borderColor:'#000080',borderWidth:2.3,opacity:1},clip:false,z:2});
  [identityLine,fitLines[i]].forEach(l=>series.push({type:'line',xAxisIndex:i,yAxisIndex:i,data:l,showSymbol:false,symbol:'none',silent:true,animation:false,clip:false,
    lineStyle:{color:'#000',width:3.6,cap:'butt'},z:3}));
  const f=frames[i];
  graphic.push({type:'rect',z:-1,silent:true,shape:{x:f[0],y:f[1],width:f[2],height:f[3]},style:{fill:'#fff',stroke:'#222',lineWidth:1.5}});
  const s=statPos[i];
  const t=(text,x,y,o)=>graphic.push({type:'text',z:10,silent:true,x,y,rotation:o.rot||0,scaleX:o.sx||1,style:Object.assign({text,fontFamily:font,fill:'#000',verticalAlign:'middle'},o.st)});
  t(panelLabels[i],labelPos[i][0],labelPos[i][1],{st:{fontSize:31,fontWeight:'bold',align:'left'}});
  t(rTexts[i],s[0],s[1],{st:{fontSize:21.5,align:'right'}});
  t(epeTexts[i],s[2],s[3],{sx:0.96,st:{fontSize:21,align:'right'}});
  t(yTitle,yTitlePos[i][0],yTitlePos[i][1],{rot:Math.PI/2,sx:1.105,st:{fontSize:20,fontWeight:'bold',align:'center'}});
  t(xTitle,xTitlePos[i][0],xTitlePos[i][1],{sx:1.16,st:{fontSize:20,fontWeight:'bold',align:'center'}});
});
const chart=echarts.init(document.getElementById('c'),null,{renderer:'canvas',width:1015,height:1697});
chart.setOption({animation:false,backgroundColor:'#fff',grid,xAxis,yAxis,series,graphic});
</script></body></html>
